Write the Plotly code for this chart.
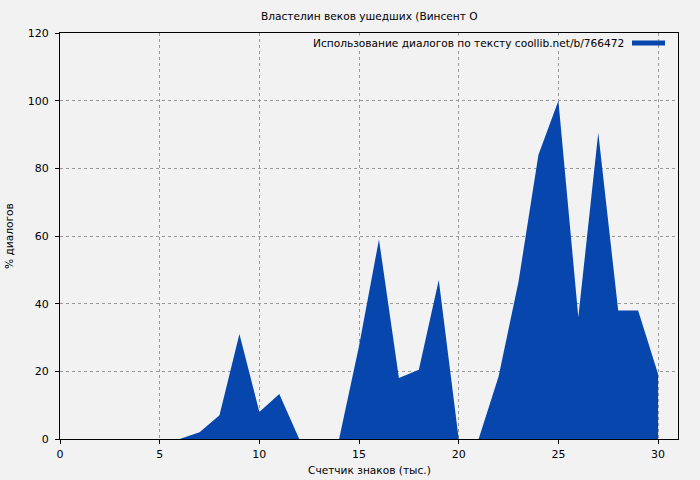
import plotly.graph_objects as go

x_vals = list(range(0, 31))
dialog_pct = [0, 0, 0, 0, 0, 0, 0, 2, 7, 31, 8, 13.3, 0, 0, 0, 27.5, 59, 18, 20.5, 47,
              0, 0, 18.5, 46.5, 84, 100, 36, 90.5, 38, 38, 19.2]
title_text = "Властелин веков ушедших (Винсент О"
legend_text = "Использование диалогов по тексту coollib.net/b/766472"
x_title = "Счетчик знаков (тыс.)"
y_title = "% диалогов"
color = "#0646ad"

L, R, T, B = 60, 678, 33, 439
PW, PH = R - L, B - T
FS = 10.6

fig = go.Figure()
fig.add_trace(go.Scatter(x=x_vals, y=dialog_pct, mode="lines", fill="tozeroy",
                         line=dict(color=color, width=0), fillcolor=color,
                         name=legend_text, showlegend=False))

fig.update_layout(
    width=700, height=480,
    margin=dict(l=L, r=700 - R, t=T, b=480 - B, autoexpand=False),
    paper_bgcolor="#f2f2f2", plot_bgcolor="#f2f2f2",
    font=dict(family="DejaVu Sans", size=11, color="#000"),
    xaxis=dict(range=[0, 31], tickvals=[0, 5, 10, 15, 20, 25, 30], showgrid=True,
               gridcolor="#999", griddash="dot", gridwidth=1, zeroline=False,
               showline=True, linecolor="#000", linewidth=1, mirror=True,
               ticks="outside", ticklen=4, tickcolor="#000", automargin=False,
               ticklabelstandoff=1),
    yaxis=dict(range=[0, 120], tickvals=[0, 20, 40, 60, 80, 100, 120], showgrid=True,
               gridcolor="#999", griddash="dot", gridwidth=1, zeroline=False,
               showline=True, linecolor="#000", linewidth=1, mirror=True,
               ticks="outside", ticklen=4, tickcolor="#000", automargin=False,
               ticklabelstandoff=4),
)

fig.add_annotation(text=title_text, xref="paper", yref="paper", x=0.5, y=(B - 16) / PH,
                   xanchor="center", yanchor="middle", showarrow=False, font=dict(size=FS))
fig.add_annotation(text=x_title, xref="paper", yref="paper", x=0.5, y=(B - 470) / PH,
                   xanchor="center", yanchor="middle", showarrow=False, font=dict(size=FS))
fig.add_annotation(text=y_title, xref="paper", yref="paper", x=(9 - L) / PW, y=(B - 236) / PH,
                   xanchor="center", yanchor="middle", showarrow=False, textangle=-90,
                   font=dict(size=FS))
fig.add_annotation(text=legend_text, xref="paper", yref="paper", x=(626 - L) / PW,
                   y=(B - 43) / PH, xanchor="right", yanchor="middle", showarrow=False,
                   font=dict(size=FS), bgcolor="#f2f2f2")
fig.add_shape(type="line", xref="paper", yref="paper", x0=(632 - L) / PW, x1=(665 - L) / PW,
              y0=(B - 43) / PH, y1=(B - 43) / PH, line=dict(color=color, width=5))

fig.write_html("out.html", config={"displayModeBar": False},
               post_script="document.body.style.margin='0';document.body.style.background='#f2f2f2';")
